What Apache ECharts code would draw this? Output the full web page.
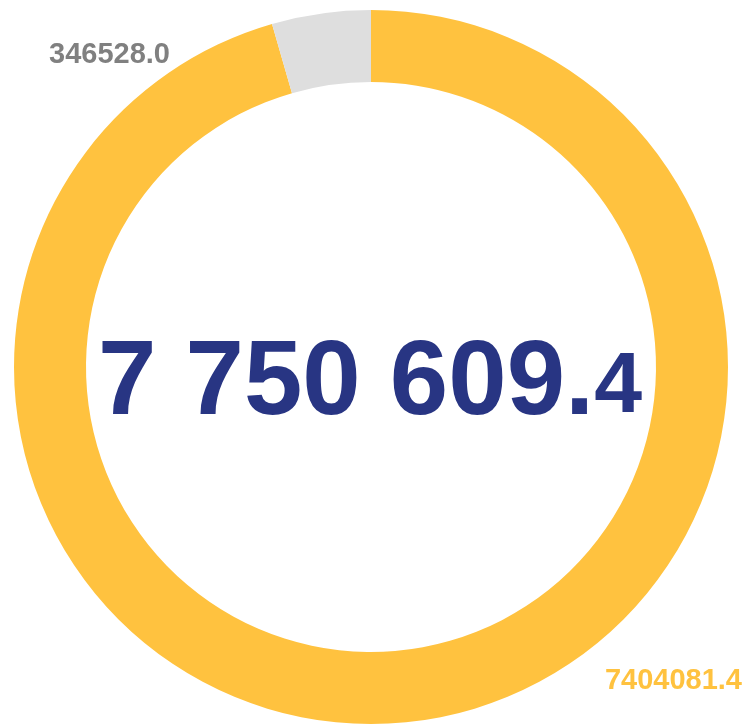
<!DOCTYPE html>
<html>
<head>
<meta charset="utf-8">
<script src="https://cdn.jsdelivr.net/npm/echarts@6/dist/echarts.min.js"></script>
<style>
  html, body { margin: 0; padding: 0; background: #ffffff; }
  #chart { width: 748px; height: 724px; }
</style>
</head>
<body>
<div id="chart"></div>
<script>
const categories = ['Done', 'Remaining'];
const values = [7404081.4, 346528.0];
const sliceColors = ['#FFC23F', '#DEDEDE'];
const labelColors = ['#FFC23F', '#808080'];

const total = values.reduce((a, b) => a + b, 0);
const totalStr = total.toFixed(1);
const intPart = totalStr.split('.')[0].replace(/\B(?=(\d{3})+(?!\d))/g, ' ');
const decPart = totalStr.split('.')[1];

const chart = echarts.init(document.getElementById('chart'));
const font = "'Liberation Sans', Arial, sans-serif";

chart.setOption({
  animation: false,
  graphic: [{
    type: 'text',
    x: 370,
    y: 438,
    silent: true,
    style: {
      text: '{a|' + intPart + '.}{b|' + decPart + '}',
      textAlign: 'center',
      textVerticalAlign: 'bottom',
      rich: {
        a: { fontSize: 105, lineHeight: 105, fontWeight: 'bold', fontFamily: font, fill: '#283583', verticalAlign: 'bottom' },
        b: { fontSize: 86, lineHeight: 86, fontWeight: 'bold', fontFamily: font, fill: '#283583', verticalAlign: 'bottom', padding: [0, 0, 7, 0] }
      }
    }
  }],
  series: [{
    type: 'pie',
    center: [371, 367],
    radius: [285, 357],
    startAngle: 90,
    clockwise: true,
    silent: true,
    emphasis: { disabled: true },
    labelLine: { show: false },
    label: {
      show: true,
      position: 'outside',
      fontSize: 29,
      fontWeight: 'bold',
      fontFamily: font,
      formatter: p => p.value.toFixed(1)
    },
    labelLayout: function (params) {
      if (params.dataIndex === 0) {
        return { x: 742, y: 681, align: 'right', verticalAlign: 'middle' };
      }
      return { x: 49, y: 55, align: 'left', verticalAlign: 'middle' };
    },
    data: categories.map((c, i) => ({
      name: c,
      value: values[i],
      itemStyle: { color: sliceColors[i] },
      label: { color: labelColors[i] }
    }))
  }]
});
</script>
</body>
</html>
